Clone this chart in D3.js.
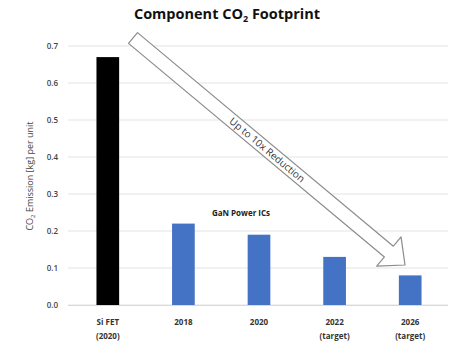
<!DOCTYPE html>
<html>
<head>
<meta charset="utf-8">
<script src="https://cdn.jsdelivr.net/npm/d3@7"></script>
<style>
  body { margin: 0; background: #fff; }
  svg { display: block; font-family: "Open Sans", "Liberation Sans", sans-serif; }
</style>
</head>
<body>
<svg id="chart" width="454" height="348"></svg>
<script>
// Per-unit CO2 footprint of a silicon FET versus GaN power ICs by generation
const categories = ["Si FET|(2020)", "2018", "2020", "2022|(target)", "2026|(target)"];
const emissions = [0.67, 0.22, 0.19, 0.13, 0.08];
const barColors = ["#000000", "#4472C4", "#4472C4", "#4472C4", "#4472C4"];
const yTicks = [0, 0.1, 0.2, 0.3, 0.4, 0.5, 0.6, 0.7];

const svg = d3.select("#chart");

const x = d3.scaleBand().domain(categories).range([70, 448]).paddingInner(0.7).paddingOuter(0.35);
const y = d3.scaleLinear().domain([0, 0.7]).range([305, 46]);

// Title with subscript
const title = svg.append("text")
  .attr("x", 227).attr("y", 19)
  .attr("text-anchor", "middle")
  .attr("font-size", 14.5).attr("font-weight", "bold").attr("fill", "#111");
title.append("tspan").text("Component CO");
title.append("tspan").attr("font-size", 9).attr("dy", 3).text("2");
title.append("tspan").attr("dy", -3).text(" Footprint");

// Gridlines
svg.append("g")
  .selectAll("line")
  .data(yTicks)
  .join("line")
  .attr("x1", 68).attr("x2", 448)
  .attr("y1", d => y(d)).attr("y2", d => y(d))
  .attr("stroke", "#e3e3e3").attr("stroke-width", 1);

// Y axis labels
const yAxis = d3.axisLeft(y).tickValues(yTicks).tickFormat(d3.format(".1f")).tickSize(0).tickPadding(0);
const yg = svg.append("g").attr("transform", "translate(58,0)").call(yAxis);
yg.select(".domain").remove();
yg.selectAll("text").attr("font-size", 8).attr("font-weight", 600).attr("fill", "#444")
  .attr("font-family", "'Open Sans', 'Liberation Sans', sans-serif");

// Y axis title
const yt = svg.append("text")
  .attr("transform", "translate(33,176) rotate(-90)")
  .attr("text-anchor", "middle")
  .attr("font-size", 9).attr("fill", "#444");
yt.append("tspan").text("CO");
yt.append("tspan").attr("font-size", 6).attr("dy", 2).text("2");
yt.append("tspan").attr("dy", -2).text(" Emission [kg] per unit");

// Bars
svg.append("g")
  .selectAll("rect")
  .data(categories)
  .join("rect")
  .attr("x", d => x(d))
  .attr("width", x.bandwidth())
  .attr("y", (d, i) => y(emissions[i]))
  .attr("height", (d, i) => y(0) - y(emissions[i]))
  .attr("fill", (d, i) => barColors[i]);

// Baseline
svg.append("line")
  .attr("x1", 68).attr("x2", 448)
  .attr("y1", y(0) + 0.5).attr("y2", y(0) + 0.5)
  .attr("stroke", "#d9d9d9");

// X axis category labels (two lines)
const xl = svg.append("g")
  .selectAll("text")
  .data(categories)
  .join("text")
  .attr("x", d => x(d) + x.bandwidth() / 2)
  .attr("y", 325)
  .attr("text-anchor", "middle")
  .attr("font-size", 8).attr("font-weight", "bold").attr("fill", "#333");
xl.each(function(d) {
  const parts = d.split("|");
  const t = d3.select(this);
  parts.forEach((p, k) => {
    t.append("tspan")
      .attr("x", x(d) + x.bandwidth() / 2)
      .attr("dy", k === 0 ? 0 : 14)
      .text(p);
  });
});

// Series label above GaN bars
svg.append("text")
  .attr("x", 241).attr("y", 216)
  .attr("text-anchor", "middle")
  .attr("font-size", 8).attr("font-weight", "bold").attr("fill", "#222")
  .text("GaN Power ICs");

// Hollow reduction arrow
const start = [133, 38], end = [405, 265];
const dx = end[0] - start[0], dy = end[1] - start[1];
const L = Math.hypot(dx, dy);
const ang = Math.atan2(dy, dx) * 180 / Math.PI;
const hw = 7, headW = 19, headL = 21;
const pts = [[0, -hw], [L - headL, -hw], [L - headL, -headW], [L, 0], [L - headL, headW], [L - headL, hw], [0, hw]];
const arrow = svg.append("g").attr("transform", `translate(${start[0]},${start[1]}) rotate(${ang})`);
arrow.append("polygon")
  .attr("points", pts.map(p => p.join(",")).join(" "))
  .attr("fill", "#fff").attr("stroke", "#8c8c8c").attr("stroke-width", 1.2)
  .attr("stroke-linejoin", "round");
arrow.append("text")
  .attr("x", (L - headL) / 2 + 8).attr("y", 3.5)
  .attr("text-anchor", "middle")
  .attr("font-size", 10).attr("fill", "#333")
  .text("Up to 10x Reduction");
</script>
</body>
</html>
